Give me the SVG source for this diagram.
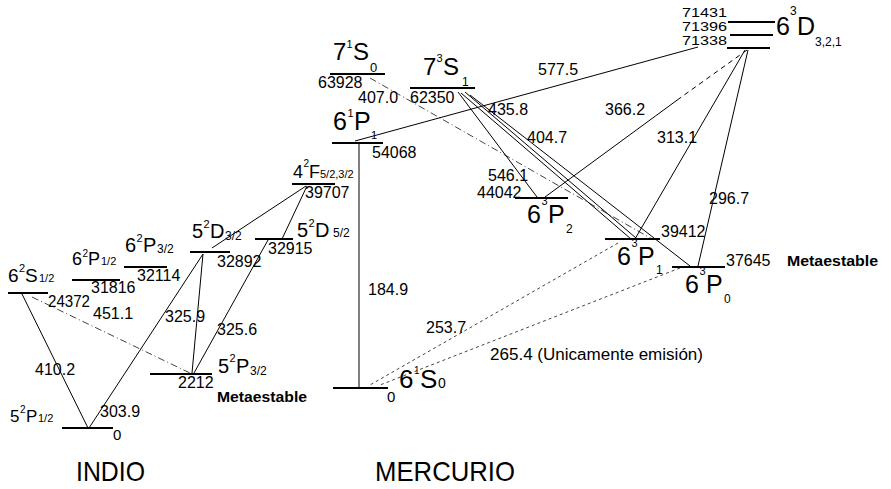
<svg xmlns="http://www.w3.org/2000/svg" width="891" height="489" viewBox="0 0 891 489">
<style>
text{font-family:"Liberation Sans",Arial,sans-serif;fill:#000}
.lv{stroke:#000;stroke-width:2}
.c{stroke:#000;stroke-width:1;fill:none}
.dd{stroke:#444;stroke-dasharray:7 3 1 3}
.dt{stroke:#444;stroke-dasharray:3 3}
.dh{stroke-dasharray:5 4}
.n{font-size:16px}
.w{font-size:16px}
.m{font-size:15px;font-weight:bold}
.big{font-size:28px}
.d{font-size:12px}
</style>
<rect width="891" height="489" fill="#fff"/>
<g id="connectors">
<line class="c" x1="22" y1="294" x2="88" y2="428"/>
<line class="c dd" x1="32" y1="297" x2="190" y2="373"/>
<line class="c" x1="203" y1="254" x2="89" y2="428"/>
<line class="c" x1="203" y1="254" x2="192" y2="373"/>
<line class="c" x1="268" y1="240" x2="194" y2="373"/>
<line class="c" x1="306" y1="186" x2="212" y2="248"/>
<line class="c" x1="307" y1="186" x2="282" y2="239"/>
<line class="c" x1="359" y1="143" x2="359" y2="388"/>
<line class="c dd" x1="370" y1="78" x2="652" y2="239"/>
<line class="c" x1="355" y1="141" x2="698" y2="47"/>
<line class="c" x1="458" y1="92" x2="537" y2="197"/>
<line class="c" x1="461" y1="93" x2="631" y2="239"/>
<line class="c" x1="465" y1="92" x2="636" y2="238"/>
<line class="c" x1="470" y1="95" x2="690" y2="266"/>
<line class="c dh" x1="747" y1="50" x2="680" y2="98"/>
<line class="c" x1="680" y1="98" x2="545" y2="197"/>
<line class="c" x1="745" y1="50" x2="635" y2="239"/>
<line class="c" x1="748" y1="50" x2="698" y2="266"/>
<line class="c dt" x1="618" y1="243" x2="370" y2="385"/>
<line class="c dt" x1="680" y1="268" x2="380" y2="385"/>
<text class="w" x="35" y="375">410.2</text>
<text class="w" x="93" y="319">451.1</text>
<text class="w" x="100" y="417">303.9</text>
<text class="w" x="165" y="322">325.9</text>
<text class="w" x="217" y="335">325.6</text>
<text class="w" x="368" y="295">184.9</text>
<text class="w" x="358" y="103">407.0</text>
<text class="w" x="538" y="75">577.5</text>
<text class="w" x="488" y="115">435.8</text>
<text class="w" x="527" y="143">404.7</text>
<text class="w" x="488" y="181">546.1</text>
<text class="w" x="605" y="115">366.2</text>
<text class="w" x="657" y="143">313.1</text>
<text class="w" x="709" y="204">296.7</text>
<text class="w" x="426" y="333">253.7</text>
<text class="w" x="490" y="360" textLength="213" lengthAdjust="spacingAndGlyphs">265.4  (Unicamente emisión)</text>
</g>
<g id="In-6S12">
<line class="lv" x1="8" y1="293" x2="48" y2="293"/>
<text font-size="19" x="8" y="282">6</text><text font-size="11" x="19" y="272">2</text><text font-size="19" x="25" y="282">S</text><text font-size="11" x="39" y="282">1/2</text>
<text class="n" x="48" y="307" textLength="42" lengthAdjust="spacingAndGlyphs">24372</text>
</g>
<g id="In-6P12">
<line class="lv" x1="72" y1="280" x2="120" y2="280"/>
<text font-size="18" x="72" y="265">6</text><text font-size="10" x="82.5" y="257">2</text><text font-size="18" x="88" y="265">P</text><text font-size="11" x="101" y="265">1/2</text>
<text class="n" x="91" y="293">31816</text>
</g>
<g id="In-6P32">
<line class="lv" x1="124" y1="267" x2="167" y2="267"/>
<text font-size="20" x="125" y="252">6</text><text font-size="11" x="136.5" y="242">2</text><text font-size="20" x="143" y="252">P</text><text font-size="12" x="157" y="253">3/2</text>
<text class="n" x="137" y="281">32114</text>
</g>
<g id="In-5P12">
<line class="lv" x1="62" y1="428" x2="113" y2="428"/>
<text font-size="17" x="10" y="422">5</text><text font-size="10" x="20" y="413">2</text><text font-size="17" x="26" y="422">P</text><text font-size="11" x="38" y="422">1/2</text>
<text font-size="15" x="113" y="440">0</text>
</g>
<g id="In-5D32">
<line class="lv" x1="190" y1="252" x2="230" y2="252"/>
<text font-size="20" x="192" y="238">5</text><text font-size="11" x="203.5" y="228">2</text><text font-size="20" x="210" y="238">D</text><text font-size="12" x="225" y="240">3/2</text>
<text class="n" x="217" y="267">32892</text>
</g>
<g id="In-5D52">
<line class="lv" x1="255" y1="239" x2="293" y2="239"/>
<text font-size="20" x="297" y="237">5</text><text font-size="11" x="308.5" y="227">2</text><text font-size="20" x="315" y="237">D</text><text font-size="12" x="333" y="237">5/2</text>
<text class="n" x="268" y="254">32915</text>
</g>
<g id="In-5P32">
<line class="lv" x1="150" y1="374" x2="212" y2="374"/>
<text font-size="20" x="218" y="373">5</text><text font-size="11" x="229.5" y="362">2</text><text font-size="20" x="236" y="373">P</text><text font-size="12" x="250" y="375">3/2</text>
<text class="n" x="178" y="388">2212</text>
<text class="m" x="217" y="402" textLength="90" lengthAdjust="spacingAndGlyphs">Metaestable</text>
</g>
<g id="In-4F">
<line class="lv" x1="292" y1="184" x2="335" y2="184"/>
<text font-size="18" x="293" y="178">4</text><text font-size="10" x="303.5" y="167">2</text><text font-size="18" x="309" y="178">F</text><text font-size="11" x="320" y="178">5/2,3/2</text>
<text class="n" x="305" y="198">39707</text>
</g>
<g id="Hg-7S0">
<line class="lv" x1="330" y1="74" x2="385" y2="74"/>
<text font-size="24" x="333" y="60">7</text><text font-size="11" x="346.5" y="48">1</text><text font-size="24" x="353" y="60">S</text><text font-size="13" x="370" y="72">0</text>
<text class="n" x="318" y="88">63928</text>
</g>
<g id="Hg-7S1">
<line class="lv" x1="410" y1="88" x2="475" y2="88"/>
<text font-size="24" x="423" y="75">7</text><text font-size="11" x="436.5" y="62">3</text><text font-size="24" x="443" y="75">S</text><text font-size="12" x="462" y="86">1</text>
<text class="n" x="410" y="103">62350</text>
</g>
<g id="Hg-6P1s">
<line class="lv" x1="332" y1="143" x2="383" y2="143"/>
<text font-size="25" x="333" y="130">6</text><text font-size="11" x="347.5" y="117">1</text><text font-size="25" x="354" y="130">P</text><text font-size="11" x="371" y="139">1</text>
<text class="n" x="372" y="158">54068</text>
</g>
<g id="Hg-6S0">
<line class="lv" x1="333" y1="388" x2="388" y2="388"/>
<text font-size="26" x="399" y="388">6</text><text font-size="10" x="414" y="374">1</text><text font-size="26" x="420" y="388">S</text><text font-size="14" x="438" y="388">0</text>
<text font-size="15" x="387" y="402">0</text>
</g>
<g id="Hg-6D">
<line class="lv" x1="728" y1="22" x2="775" y2="22"/>
<line class="lv" x1="730" y1="35" x2="773" y2="35"/>
<line class="lv" x1="727" y1="48" x2="770" y2="48"/>
<text class="d" x="682" y="17" textLength="45" lengthAdjust="spacingAndGlyphs">71431</text>
<text class="d" x="682" y="31" textLength="45" lengthAdjust="spacingAndGlyphs">71396</text>
<text class="d" x="682" y="45" textLength="45" lengthAdjust="spacingAndGlyphs">71338</text>
<text font-size="25" x="776" y="35">6</text><text font-size="12" x="790" y="15">3</text><text font-size="25" x="797" y="35">D</text><text font-size="12" x="815" y="46">3,2,1</text>
</g>
<g id="Hg-6P2">
<line class="lv" x1="515" y1="198" x2="568" y2="198"/>
<text font-size="25" x="527" y="223">6</text><text font-size="11" x="541.5" y="205">3</text><text font-size="25" x="548" y="223">P</text><text font-size="12" x="566" y="233">2</text>
<text class="n" x="477" y="198">44042</text>
</g>
<g id="Hg-6P1">
<line class="lv" x1="605" y1="239" x2="660" y2="239"/>
<text font-size="25" x="617" y="265">6</text><text font-size="11" x="631.5" y="247">3</text><text font-size="25" x="638" y="265">P</text><text font-size="12" x="656" y="274">1</text>
<text class="n" x="661" y="237">39412</text>
</g>
<g id="Hg-6P0">
<line class="lv" x1="672" y1="267" x2="725" y2="267"/>
<text font-size="25" x="685" y="293">6</text><text font-size="11" x="699.5" y="275">3</text><text font-size="25" x="706" y="293">P</text><text font-size="12" x="724" y="303">0</text>
<text class="n" x="726" y="266">37645</text>
<text class="m" x="787" y="266" textLength="91" lengthAdjust="spacingAndGlyphs">Metaestable</text>
</g>
<g id="titles">
<text class="big" x="76" y="481" textLength="69" lengthAdjust="spacingAndGlyphs">INDIO</text>
<text class="big" x="375" y="481" textLength="140" lengthAdjust="spacingAndGlyphs">MERCURIO</text>
</g>
</svg>
